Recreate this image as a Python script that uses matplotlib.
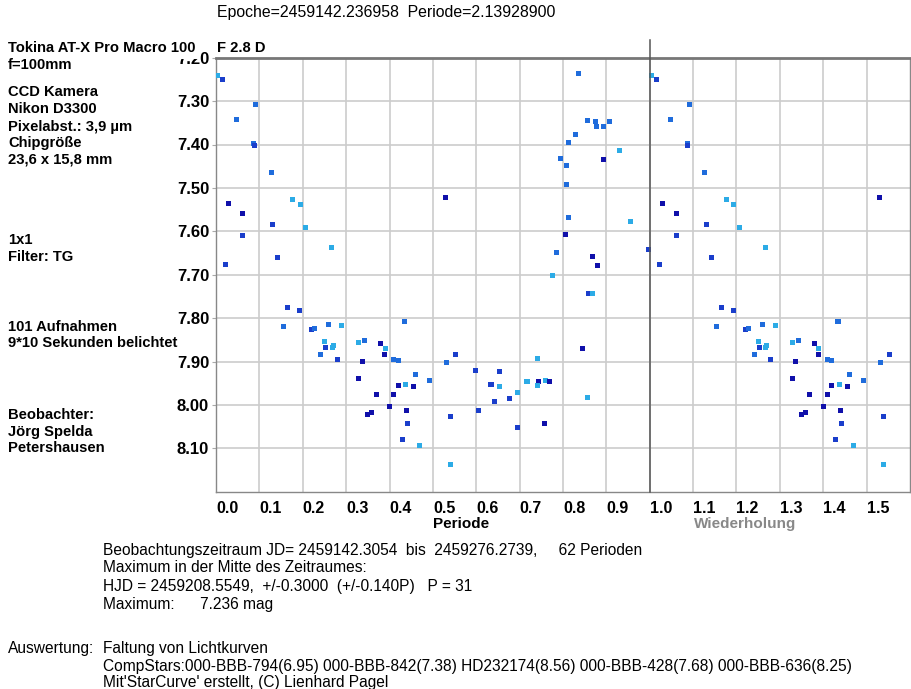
"""Light curve folded on the period, StarCurve style."""

import numpy as np
import matplotlib
matplotlib.use('Agg')
from matplotlib import pyplot as plt


# =============================================================================
# Data (phase, magnitude, colour level)
# =============================================================================
phase = [0.003, 0.015, 0.091, 0.047, 0.087, 0.088, 0.127, 0.029, 0.177, 0.194,
    0.061, 0.131, 0.206, 0.061, 0.267, 0.142, 0.023,
    0.835, 0.857, 0.875, 0.877, 0.894, 0.908, 0.829, 0.813, 0.795, 0.809,
    0.894, 0.931, 0.809, 0.530, 0.813, 0.955, 0.805, 0.785, 0.867, 0.879,
    0.776, 0.998,
    0.165, 0.193, 0.155, 0.221, 0.228, 0.259, 0.289, 0.434, 0.251, 0.253,
    0.268, 0.270, 0.241, 0.279, 0.329, 0.343, 0.379, 0.390, 0.389, 0.337,
    0.409, 0.420, 0.328, 0.460, 0.492, 0.438, 0.420, 0.456, 0.369, 0.409,
    0.400, 0.358, 0.350, 0.440, 0.441, 0.429, 0.470,
    0.859, 0.867, 0.552, 0.532, 0.846, 0.742, 0.598, 0.654, 0.634, 0.654,
    0.717, 0.744, 0.742, 0.760, 0.770, 0.694, 0.641, 0.676, 0.857, 0.606,
    0.540, 0.696, 0.757, 0.540]
mag = [7.240, 7.250, 7.308, 7.342, 7.398, 7.403, 7.465, 7.536, 7.527, 7.539,
    7.559, 7.585, 7.591, 7.609, 7.637, 7.661, 7.677,
    7.236, 7.344, 7.346, 7.358, 7.358, 7.348, 7.378, 7.395, 7.433, 7.449,
    7.435, 7.414, 7.493, 7.523, 7.569, 7.577, 7.607, 7.649, 7.659, 7.679,
    7.701, 7.643,
    7.775, 7.783, 7.819, 7.827, 7.824, 7.815, 7.818, 7.807, 7.855, 7.867,
    7.867, 7.864, 7.883, 7.896, 7.857, 7.851, 7.859, 7.871, 7.885, 7.900,
    7.895, 7.897, 7.940, 7.930, 7.943, 7.952, 7.956, 7.958, 7.977, 7.977,
    8.003, 8.017, 8.023, 8.012, 8.042, 8.080, 8.093,
    7.743, 7.743, 7.885, 7.902, 7.871, 7.892, 7.920, 7.923, 7.953, 7.958,
    7.946, 7.947, 7.956, 7.943, 7.946, 7.972, 7.992, 7.986, 7.983, 8.013,
    8.027, 8.052, 8.044, 8.138]
level = [3, 1, 2, 2, 2, 1, 2, 0, 3, 3,
    0, 1, 3, 1, 3, 1, 1,
    2, 2, 2, 2, 2, 2, 2, 2, 2, 2,
    0, 3, 2, 0, 2, 3, 0, 2, 0, 0,
    3, 1,
    1, 1, 2, 1, 2, 2, 3, 2, 3, 1,
    3, 3, 2, 1, 3, 2, 0, 3, 0, 0,
    2, 2, 0, 2, 2, 3, 0, 0, 0, 0,
    0, 0, 0, 0, 1, 1, 3,
    1, 3, 1, 2, 0, 3, 1, 1, 1, 3,
    3, 0, 3, 3, 0, 3, 1, 1, 3, 1,
    1, 1, 0, 3]
palette = ['#1010AA', '#1A3ECB', '#1F6CDC', '#2CABE6']

xticks = [0.0, 0.1, 0.2, 0.3, 0.4, 0.5, 0.6, 0.7, 0.8, 0.9, 1.0, 1.1, 1.2,
    1.3, 1.4, 1.5]
yticks = [7.20, 7.30, 7.40, 7.50, 7.60, 7.70, 7.80, 7.90, 8.00, 8.10]

info_left = [
    (48, 'Tokina AT-X Pro Macro 100'),
    (65, 'f=100mm'),
    (92, 'CCD Kamera'),
    (109, 'Nikon D3300'),
    (127, 'Pixelabst.: 3,9 µm'),
    (143, 'Chipgröße'),
    (160, '23,6 x 15,8 mm'),
    (240, '1x1'),
    (257, 'Filter: TG'),
    (327, '101 Aufnahmen'),
    (343, '9*10 Sekunden belichtet'),
    (415, 'Beobachter:'),
    (432, 'Jörg Spelda'),
    (448, 'Petershausen'),
]
info_bottom = [
    (103, 551, 'Beobachtungszeitraum JD= 2459142.3054  bis  2459276.2739,'
        '     62 Perioden'),
    (103, 568, 'Maximum in der Mitte des Zeitraumes:'),
    (103, 586, 'HJD = 2459208.5549,  +/-0.3000  (+/-0.140P)   P = 31'),
    (103, 604, 'Maximum:      7.236 mag'),
    (8, 648, 'Auswertung:'),
    (103, 648, 'Faltung von Lichtkurven'),
    (103, 666, 'CompStars:000-BBB-794(6.95) 000-BBB-842(7.38) HD232174(8.56)'
        ' 000-BBB-428(7.68) 000-BBB-636(8.25)'),
    (103, 682, "Mit'StarCurve' erstellt, (C) Lienhard Pagel"),
]


# =============================================================================
# Plot parameters
# =============================================================================
W, H = 911, 689
matplotlib.rcParams['font.family'] = ['Liberation Sans', 'DejaVu Sans']

def fx(x):
    return x / W

def fy(y):
    return 1 - y / H


# =============================================================================
# Plot the light curve
# =============================================================================
fig = plt.figure(figsize=(W / 100, H / 100), dpi=100)
ax = fig.add_axes([fx(216), fy(491.7), fx(910) - fx(216),
    fy(57.7) - fy(491.7)])

phase = np.asarray(phase)
mag = np.asarray(mag)
cols = np.asarray([palette[l] for l in level])

# Original points and the repetition (Wiederholung)
ax.scatter(phase, mag, marker='s', s=13, c=cols, linewidths=0, zorder=3)
rep = phase < 0.58
ax.scatter(phase[rep] + 1, mag[rep], marker='s', s=13, c=cols[rep],
    linewidths=0, zorder=3)

# Separator between period and repetition
ax.axvline(1.0, ymin=0, ymax=1.041, color='#555555', linewidth=1.1,
    clip_on=False, zorder=4)

# Axes parameters
ax.set_xlim(0, 1.6)
ax.set_ylim(8.20, 7.20)
ax.set_xticks(xticks)
ax.set_xticklabels([f'{t:.1f}' for t in xticks], fontsize=11.5,
    fontweight='bold')
for lab in ax.get_xticklabels():
    lab.set_horizontalalignment('left')
ax.set_yticks(yticks)
ax.set_yticklabels([f'{t:.2f}' for t in yticks], fontsize=12,
    fontweight='bold')
ax.tick_params(axis='x', length=0, pad=7)
ax.tick_params(axis='y', length=3, color='#aaaaaa', pad=2)
ax.grid(True, color='#cccccc', linewidth=1.2)
ax.set_axisbelow(True)
for side in ['left', 'right', 'bottom']:
    ax.spines[side].set_color('#888888')
    ax.spines[side].set_linewidth(1.0)
ax.spines['top'].set_color('#777777')
ax.spines['top'].set_linewidth(2.0)

# Axis titles
fig.text(fx(461), fy(524), 'Periode', fontsize=11, fontweight='bold',
    ha='center', va='center')
fig.text(fx(745), fy(524), 'Wiederholung', fontsize=11, fontweight='bold',
    color='#888888', ha='center', va='center')

# Header
fig.text(fx(217), fy(13), 'Epoche=2459142.236958  Periode=2.13928900',
    fontsize=11.4, ha='left', va='center')

# Instrument / observer info on the left
for i, (y, txt) in enumerate(info_left):
    t = fig.text(fx(8), fy(y), txt, fontsize=10.6, fontweight='bold',
        ha='left', va='center', zorder=5)
    if i == 0:
        t.set_bbox(dict(facecolor='white', edgecolor='none', pad=3))
fig.text(fx(217), fy(48), 'F 2.8 D', fontsize=10.6, fontweight='bold',
    ha='left', va='center', zorder=5)

# Observation summary below the chart
for x, y, txt in info_bottom:
    fig.text(fx(x), fy(y), txt, fontsize=11.2, ha='left', va='center')

fig.savefig('out.png', dpi=100)
plt.close()
